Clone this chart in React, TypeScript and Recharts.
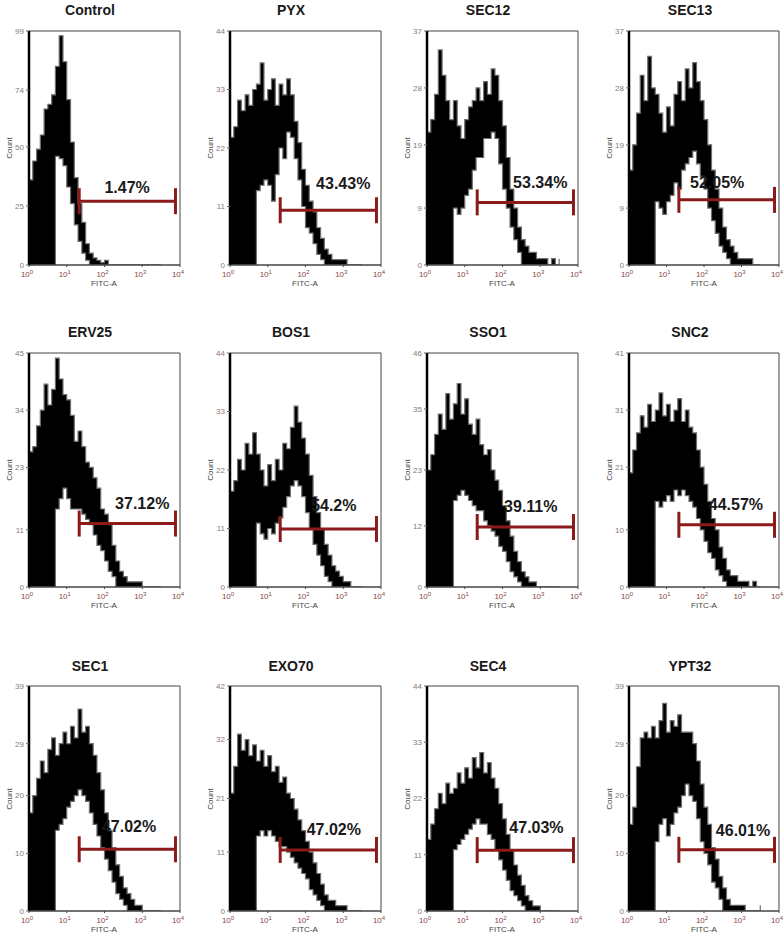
import {
  Area,
  ComposedChart,
  ReferenceArea,
  ReferenceDot,
  ReferenceLine,
  XAxis,
  YAxis,
} from 'recharts';

// FITC-A channel, in log decades (10^0 .. 10^4)
const decades = [
  0, 0.1, 0.2, 0.3, 0.4, 0.5, 0.6, 0.7, 0.8, 0.9, 1.0, 1.1, 1.2, 1.3, 1.4, 1.5, 1.6, 1.7,
  1.8, 1.9, 2.0, 2.1, 2.2, 2.3, 2.4, 2.5, 2.6, 2.7, 2.8, 2.9, 3.0, 3.1, 3.2, 3.3, 3.4, 3.5,
];
const decadeTicks = [0, 1, 2, 3, 4];

const names = ['Control', 'PYX', 'SEC12', 'SEC13', 'ERV25', 'BOS1', 'SSO1', 'SNC2', 'SEC1', 'EXO70', 'SEC4', 'YPT32'];
const yMax = [99, 44, 37, 37, 45, 44, 46, 41, 39, 42, 44, 39];
const yTicks = [
  [0, 25, 50, 74, 99],
  [0, 11, 22, 33, 44],
  [0, 9, 19, 28, 37],
  [0, 9, 19, 28, 37],
  [0, 11, 23, 34, 45],
  [0, 11, 22, 33, 44],
  [0, 12, 23, 35, 46],
  [0, 10, 21, 31, 41],
  [0, 10, 20, 29, 39],
  [0, 11, 21, 32, 42],
  [0, 11, 22, 33, 44],
  [0, 10, 20, 29, 39],
];

// gate (marker) and its percentage
const gateFrom = 1.33;
const gateTo = 3.88;
const gateLevel = [27, 10.3, 9.9, 10.3, 12.2, 10.9, 11.8, 10.9, 10.7, 11.4, 11.9, 10.6];
const gatePercent = ['1.47%', '43.43%', '53.34%', '52.05%', '37.12%', '54.2%', '39.11%', '44.57%', '47.02%', '47.02%', '47.03%', '46.01%'];
const labelX = [2.6, 3.0, 3.0, 2.35, 3.0, 2.75, 2.75, 2.85, 2.65, 2.75, 2.9, 3.04];
const labelY = [32.6, 15.4, 13.1, 13.0, 16.0, 15.4, 15.9, 14.5, 14.7, 15.3, 16.4, 14.0];

// upper / lower edge of the histogram band (counts)
const controlHi = [36, 44, 49, 55, 66, 68, 72, 84, 97, 86, 70, 52, 37, 26, 18, 9, 5, 3, 2, 1, 2, 0, 0, 0, 0, 0, 0, 0, 0, 0, 0, 0, 0, 0, 0, 0];
const controlLo = [0, 0, 0, 0, 0, 0, 0, 46, 45, 42, 33, 26, 17, 10, 5, 2, 0, 0, 0, 0, 0, 0, 0, 0, 0, 0, 0, 0, 0, 0, 0, 0, 0, 0, 0, 0];
const pyxHi = [24, 26, 31, 29, 32, 30, 33, 34, 38, 31, 33, 35, 30, 34, 32, 35, 32, 27, 23, 18, 15, 12, 10, 7, 5, 3, 2, 1, 1, 1, 1, 0, 0, 0, 0, 0];
const pyxLo = [0, 0, 0, 0, 0, 0, 0, 14, 15, 16, 15, 12, 17, 22, 20, 25, 24, 20, 16, 11, 7, 6, 4, 2, 1, 0, 0, 0, 0, 0, 0, 0, 0, 0, 0, 0];
const sec12Hi = [21, 23, 27, 34, 30, 26, 23, 26, 22, 20, 23, 25, 26, 28, 26, 29, 27, 31, 30, 26, 22, 17, 12, 9, 6, 4, 3, 2, 2, 1, 1, 1, 0, 1, 0, 1];
const sec12Lo = [0, 0, 0, 0, 0, 0, 0, 9, 8, 9, 11, 12, 15, 17, 17, 20, 20, 21, 20, 16, 12, 9, 6, 4, 2, 0, 0, 0, 0, 0, 0, 0, 0, 0, 0, 0];
const sec13Hi = [15, 19, 24, 30, 26, 33, 28, 27, 24, 21, 25, 22, 27, 29, 26, 31, 28, 32, 29, 26, 23, 19, 15, 12, 9, 6, 4, 3, 2, 1, 1, 1, 1, 0, 0, 0];
const sec13Lo = [0, 0, 0, 0, 0, 0, 0, 10, 9, 8, 10, 11, 13, 12, 15, 16, 17, 18, 16, 14, 12, 9, 7, 5, 3, 2, 1, 0, 0, 0, 0, 0, 0, 0, 0, 0];
const erv25Hi = [26, 27, 31, 34, 39, 35, 38, 44, 40, 37, 36, 33, 28, 30, 27, 24, 23, 21, 19, 15, 14, 12, 8, 5, 3, 2, 1, 1, 1, 1, 0, 0, 0, 0, 0, 0];
const erv25Lo = [0, 0, 0, 0, 0, 0, 0, 15, 17, 19, 17, 15, 15, 15, 14, 13, 12, 10, 8, 7, 5, 3, 2, 0, 0, 0, 0, 0, 0, 0, 0, 0, 0, 0, 0, 0];
const bos1Hi = [18, 20, 24, 22, 27, 25, 29, 25, 22, 19, 23, 20, 24, 22, 27, 26, 30, 34, 31, 28, 25, 21, 17, 14, 11, 8, 6, 4, 3, 2, 1, 1, 0, 0, 0, 0];
const bos1Lo = [0, 0, 0, 0, 0, 0, 0, 12, 10, 9, 11, 10, 12, 13, 15, 17, 19, 20, 19, 17, 14, 11, 8, 6, 4, 2, 1, 0, 0, 0, 0, 0, 0, 0, 0, 0];
const sso1Hi = [23, 26, 30, 34, 31, 38, 33, 36, 40, 34, 37, 32, 30, 33, 28, 26, 27, 23, 21, 19, 16, 13, 10, 7, 5, 3, 2, 1, 1, 0, 0, 0, 0, 0, 0, 0];
const sso1Lo = [0, 0, 0, 0, 0, 0, 0, 17, 18, 19, 18, 17, 16, 15, 15, 13, 12, 11, 10, 8, 7, 5, 3, 2, 1, 0, 0, 0, 0, 0, 0, 0, 0, 0, 0, 0];
const snc2Hi = [20, 24, 27, 30, 28, 32, 29, 31, 34, 30, 32, 29, 31, 33, 29, 31, 28, 27, 24, 21, 18, 15, 12, 10, 7, 5, 3, 2, 2, 1, 1, 1, 0, 1, 0, 0];
const snc2Lo = [0, 0, 0, 0, 0, 0, 0, 15, 14, 15, 16, 15, 17, 16, 17, 16, 15, 14, 12, 10, 8, 6, 5, 3, 2, 1, 0, 0, 0, 0, 0, 0, 0, 0, 0, 0];
const sec1Hi = [17, 20, 23, 26, 24, 28, 30, 27, 29, 31, 29, 32, 30, 35, 31, 32, 29, 27, 24, 21, 17, 14, 11, 8, 6, 4, 3, 2, 1, 1, 0, 0, 0, 0, 0, 0];
const sec1Lo = [0, 0, 0, 0, 0, 0, 0, 14, 15, 16, 18, 19, 20, 21, 20, 19, 17, 15, 13, 11, 9, 7, 5, 3, 2, 1, 0, 0, 0, 0, 0, 0, 0, 0, 0, 0];
const exo70Hi = [22, 27, 33, 30, 32, 29, 31, 28, 30, 27, 29, 26, 27, 24, 25, 22, 21, 19, 17, 15, 13, 11, 9, 7, 5, 3, 2, 2, 1, 1, 1, 0, 0, 0, 0, 0];
const exo70Lo = [0, 0, 0, 0, 0, 0, 0, 14, 15, 14, 15, 14, 13, 12, 12, 11, 10, 9, 8, 7, 6, 4, 3, 2, 1, 0, 0, 0, 0, 0, 0, 0, 0, 0, 0, 0];
const sec4Hi = [14, 17, 20, 23, 21, 25, 23, 24, 27, 25, 28, 26, 30, 28, 31, 27, 29, 26, 24, 21, 18, 15, 12, 9, 7, 5, 3, 2, 1, 1, 0, 0, 0, 0, 0, 0];
const sec4Lo = [0, 0, 0, 0, 0, 0, 0, 12, 13, 14, 15, 16, 17, 18, 17, 17, 15, 14, 12, 10, 8, 6, 4, 3, 2, 1, 0, 0, 0, 0, 0, 0, 0, 0, 0, 0];
const ypt32Hi = [15, 18, 25, 30, 31, 30, 32, 30, 33, 36, 31, 33, 32, 34, 31, 31, 31, 29, 26, 22, 18, 15, 11, 9, 6, 4, 2, 1, 1, 1, 1, 0, 0, 0, 0, 1];
const ypt32Lo = [0, 0, 0, 0, 0, 0, 0, 12, 15, 16, 13, 15, 17, 18, 20, 22, 20, 19, 16, 12, 10, 8, 5, 4, 2, 0, 0, 0, 0, 0, 0, 0, 0, 0, 0, 0];

const highs = [controlHi, pyxHi, sec12Hi, sec13Hi, erv25Hi, bos1Hi, sso1Hi, snc2Hi, sec1Hi, exo70Hi, sec4Hi, ypt32Hi];
const lows = [controlLo, pyxLo, sec12Lo, sec13Lo, erv25Lo, bos1Lo, sso1Lo, snc2Lo, sec1Lo, exo70Lo, sec4Lo, ypt32Lo];

// page layout
const colLeft = [29, 230, 427, 629];
const colWidth = [151, 151, 151, 150];
const rowTop = [31, 353, 686];
const rowHeight = [234, 234, 225];
const titleY = [11, 333, 667];

const FONT = '"Liberation Sans", Arial, sans-serif';

function DecadeTick({ x, y, payload }: any) {
  return (
    <text x={x - 2} y={y + 8} textAnchor="middle" fontSize={8} fill="#8a4545" fontFamily={FONT}>
      10
      <tspan dy={-3} fontSize={6}>
        {payload.value}
      </tspan>
    </text>
  );
}

function GateShape(p: any) {
  const stroke = '#8b1a1a';
  return (
    <g>
      <line x1={p.x1} y1={p.y1} x2={p.x2} y2={p.y2} stroke={stroke} strokeWidth={3} />
      <line x1={p.x1} y1={p.y1 - 13} x2={p.x1} y2={p.y1 + 13} stroke={stroke} strokeWidth={3} />
      <line x1={p.x2} y1={p.y2 - 13} x2={p.x2} y2={p.y2 + 13} stroke={stroke} strokeWidth={3} />
    </g>
  );
}

function Panel({ i }: { i: number }) {
  const col = i % 4;
  const row = Math.floor(i / 4);
  const left = colLeft[col];
  const top = rowTop[row];
  const pw = colWidth[col];
  const ph = rowHeight[row];
  const rows = decades.map((x, k) => ({ x, band: [lows[i][k], highs[i][k]] }));

  return (
    <>
      <div
        style={{
          position: 'absolute',
          left: left + 11,
          width: 100,
          top: titleY[row] - 9,
          textAlign: 'center',
          fontFamily: FONT,
          fontWeight: 'bold',
          fontSize: 14,
          color: '#1a1a1a',
        }}
      >
        {names[i]}
      </div>
      <div style={{ position: 'absolute', left: left - 30, top: top - 4 }}>
        <ComposedChart
          width={30 + pw + 6}
          height={4 + ph + 24}
          data={rows}
          margin={{ top: 4, right: 6, bottom: 0, left: 6 }}
        >
          <XAxis
            type="number"
            dataKey="x"
            domain={[0, 4]}
            ticks={decadeTicks}
            interval={0}
            height={24}
            tickSize={2}
            stroke="#444"
            tick={<DecadeTick />}
            allowDataOverflow
          />
          <YAxis
            type="number"
            domain={[0, yMax[i]]}
            ticks={yTicks[i]}
            interval={0}
            width={24}
            tickSize={3}
            tickLine={{ stroke: '#666' }}
            axisLine={{ stroke: '#000', strokeWidth: 2.5 }}
            tick={{ fontSize: 8, fill: '#8c7878', fontFamily: FONT }}
            allowDataOverflow
          />
          <Area
            type="stepAfter"
            dataKey="band"
            fill="#000"
            fillOpacity={1}
            stroke="#6e6e6e"
            strokeWidth={1.2}
            dot={false}
            activeDot={false}
            isAnimationActive={false}
          />
          <ReferenceArea x1={0} x2={4} y1={0} y2={yMax[i]} fill="none" stroke="#444" strokeWidth={1} />
          <ReferenceLine
            segment={[
              { x: gateFrom, y: gateLevel[i] },
              { x: gateTo, y: gateLevel[i] },
            ]}
            shape={GateShape}
          />
          <ReferenceDot
            x={labelX[i]}
            y={labelY[i]}
            r={0}
            shape={(p: any) => (
              <text
                x={p.cx}
                y={p.cy}
                textAnchor="middle"
                dominantBaseline="central"
                fontFamily={FONT}
                fontWeight="bold"
                fontSize={16}
                fill="#1a1a1a"
              >
                {gatePercent[i]}
              </text>
            )}
          />
        </ComposedChart>
      </div>
      <div
        style={{
          position: 'absolute',
          left: left - 19 - 20,
          width: 40,
          top: top + ph / 2 - 5,
          textAlign: 'center',
          transform: 'rotate(-90deg)',
          fontFamily: FONT,
          fontSize: 8,
          color: '#444',
          lineHeight: '10px',
        }}
      >
        Count
      </div>
      <div
        style={{
          position: 'absolute',
          left: left + 75 - 20,
          width: 40,
          top: top + ph + 14,
          textAlign: 'center',
          fontFamily: FONT,
          fontSize: 8,
          color: '#444',
          lineHeight: '10px',
        }}
      >
        FITC-A
      </div>
    </>
  );
}

export default function App() {
  return (
    <div
      style={{
        position: 'absolute',
        left: 0,
        top: 0,
        width: 784,
        height: 945,
        background: '#fff',
        overflow: 'hidden',
      }}
    >
      {names.map((_, i) => (
        <Panel key={i} i={i} />
      ))}
    </div>
  );
}
